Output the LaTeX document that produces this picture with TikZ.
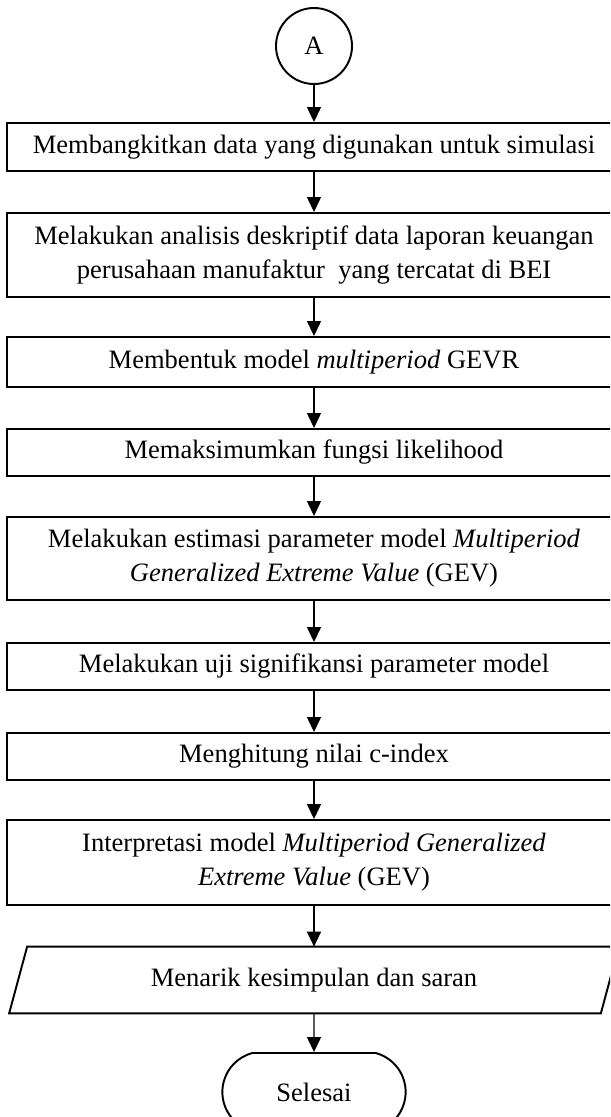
\documentclass[tikz,border=0pt]{standalone}
\usepackage{fontspec}
\setmainfont{Liberation Serif}
\usetikzlibrary{arrows.meta,graphs,shapes.misc}

\begin{document}
\begin{tikzpicture}[>={Triangle[length=0.3cm,width=0.28cm]},
    font=\fontsize{15.1}{19.3}\selectfont]
  \tikzset{proc/.append style={draw, line width=1.1pt,
      minimum width=12.28cm, align=center, inner sep=0}}
  \clip (0,0) rectangle (12.2,-22.34);
  \node[draw,circle,line width=1.1pt,minimum size=1.52cm,inner sep=0] (A) at (6.28,-0.92) {A};
  \node[proc,minimum height=0.96cm] (b1) at (6.28,-2.94)
     {Membangkitkan data yang digunakan untuk simulasi};
  \node[proc,minimum height=1.68cm] (b2) at (6.28,-5.10)
     {Melakukan analisis deskriptif data laporan keuangan\\
      perusahaan manufaktur~ yang tercatat di BEI};
  \node[proc,minimum height=1.00cm] (b3) at (6.28,-7.24)
     {Membentuk model \textit{multiperiod} GEVR};
  \node[proc,minimum height=0.94cm] (b4) at (6.28,-9.05)
     {Memaksimumkan fungsi likelihood};
  \node[proc,minimum height=1.66cm] (b5) at (6.28,-11.17)
     {Melakukan estimasi parameter model \textit{Multiperiod}\\
      \textit{Generalized Extreme Value} (GEV)};
  \node[proc,minimum height=0.94cm] (b6) at (6.28,-13.33)
     {Melakukan uji signifikansi parameter model};
  \node[proc,minimum height=0.94cm] (b7) at (6.28,-15.13)
     {Menghitung nilai c-index};
  \node[proc,minimum height=1.70cm] (b8) at (6.28,-17.25)
     {Interpretasi model \textit{Multiperiod Generalized}\\
      \textit{Extreme Value} (GEV)};
  \node[minimum width=11.82cm,minimum height=1.32cm,inner sep=0] (out) at (6.28,-19.60)
     {Menarik kesimpulan dan saran};
  \draw[line width=1.1pt] ([xshift=-0.18cm]out.south west) -- ([xshift=-0.18cm]out.south east)
     -- ([xshift=0.18cm]out.north east) -- ([xshift=0.18cm]out.north west) -- cycle;
  \node[draw,rounded rectangle,rounded rectangle arc length=150,line width=1.1pt,
     minimum width=3.9cm,minimum height=1.56cm] (stop) at (6.28,-21.84) {Selesai};
      \graph[use existing nodes, edges={thick}] {
        A -> b1 -> b2 -> b3 -> b4 -> b5 -> b6 -> b7 -> b8 -> out -> stop;
      };
\end{tikzpicture}
\end{document}
